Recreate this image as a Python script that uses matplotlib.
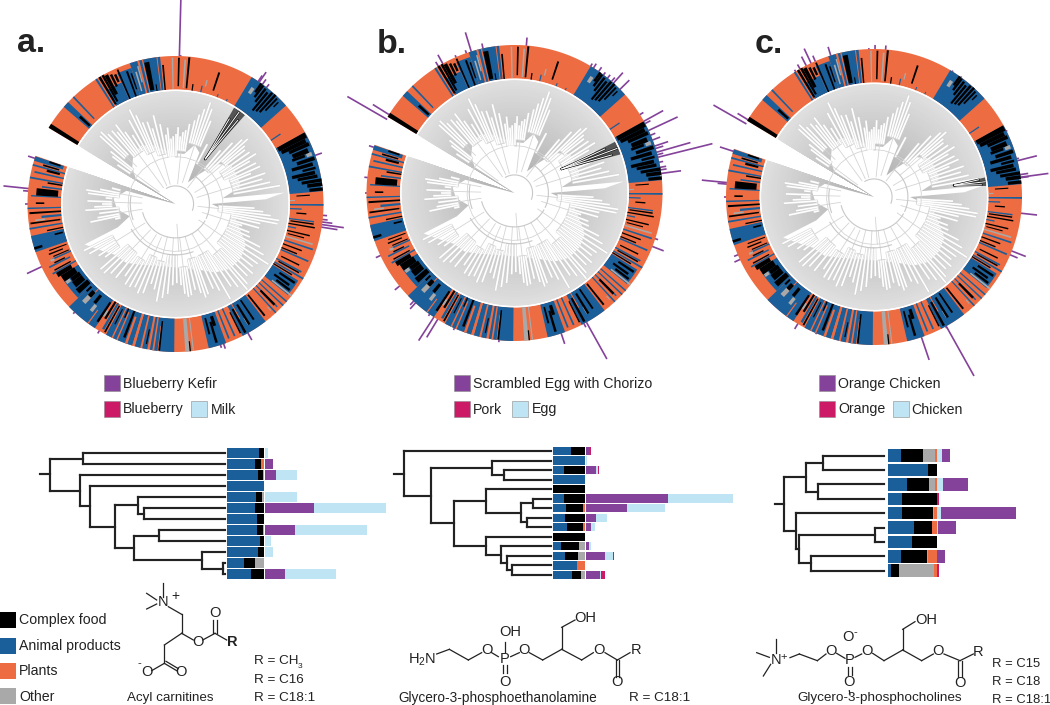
import numpy as np
import matplotlib
matplotlib.use("Agg")
import matplotlib.pyplot as plt
from matplotlib.patches import Polygon, Rectangle

plt.rcParams['font.family'] = ['Liberation Sans', 'DejaVu Sans']
plt.rcParams['mathtext.default'] = 'regular'

BLUE, ORANGE, GREY, PURPLE, PINK, MILK = '#1a5e9a', '#ee6c42', '#a9a9a9', '#84429a', '#cc1a66', '#bfe4f4'
INK = '#222222'

# ---------- circular panels: centre x, centre y ----------
CENTRES = {'a': (175.5, 204), 'b': (514.5, 193), 'c': (874, 197)}
R_IN, R0, R1 = 113.0, 114.5, 148.0
GAP_END = 301
GAP_START = 649

# ring blocks: bearing start, bearing end, inner fraction, outer fraction
RING_BLUE = [(311, 313.5, 0, 1), (316, 316.7, .1, 1), (327.2, 328, 0, 1), (329, 336, 0, .55), (336, 342, 0, .85),
             (342, 354, 0, 1), (12.4, 13, 0, .2), (21, 21.5, 0, .1), (26, 26.5, 0, .08), (31, 48.3, 0, 1),
             (56, 56.6, 0, .35), (61, 85, 0, 1), (90, 90.7, 0, 1), (92, 92.6, 0, .35),
             (97, 97.6, 0, .75), (101, 101.6, 0, .25), (108, 108.7, 0, .9), (113, 113.7, 0, .9), (118, 118.7, 0, .85),
             (120, 120.7, 0, 1), (122, 129, 0, .9), (131, 131.6, 0, 1), (133, 133.6, 0, 1), (135, 135.6, 0, .9),
             (137, 137.6, 0, 1), (142.5, 153, 0, 1), (155.5, 156.2, 0, .9), (158, 158.7, 0, .9), (160, 167, 0, 1),
             (180.5, 190, 0, 1), (191, 196, 0, 1), (197, 208, 0, 1), (209.5, 210.5, 0, .9), (213, 226, 0, 1),
             (226, 238, 0, .62), (240, 240.7, 0, .8), (243, 243.7, .1, .8), (245.5, 246.2, 0, .6),
             (251, 257.5, 0, 1), (260, 260.7, 0, 1), (264, 265, 0, .6), (268, 268.6, 0, 1), (273, 273.6, 0, .9),
             (277, 277.7, 0, .6), (280, 280.7, 0, 1), (282.5, 283.2, 0, .9), (285, 285.7, 0, 1), (287, 288.8, .1, 1)]
RING_ORANGE = [(345, 345.8, 0, 1), (346.8, 347.3, 0, 1), (352.6, 353, 0, 1), (140, 140.6, .6, 1),
               (150.5, 151, 0, .5), (186.5, 187, .25, 1), (188.3, 189, 0, 1), (193, 193.8, 0, 1),
               (196, 197, 0, 1), (199, 200, .15, 1), (203, 203.6, .1, 1), (205, 205.6, 0, 1),
               (216, 216.5, .5, 1), (222, 222.5, 0, .5)]
RING_GREY = [(343, 343.7, .1, .7), (344.4, 345, .35, .85), (358.5, 359.1, .02, .95), (3.5, 4.2, .05, .9),
             (14, 14.6, .2, .4), (33, 34.5, .55, .75), (69, 70.5, .75, .92), (83, 84, .95, 1), (88, 88.6, 0, .15),
             (106, 106.7, 0, .85), (128, 128.7, .25, 1), (138, 138.4, .7, .85), (148.5, 149.2, .55, .78),
             (174.5, 176.2, 0, 1), (172.8, 173.3, 0, 1), (212, 213, .35, .55), (222, 224, .3, .6), (217.5, 219, .42, .65),
             (233.5, 235, .45, .6), (245, 246, .55, .68), (263, 263.7, .5, .8)]
RING_BLACK = [(301, 302.8, 0, 1), (311.8, 313, .05, .45), (328.6, 329.6, .05, 1), (330, 331, .1, 1),
              (331, 332.5, .3, .95), (333, 334, .5, .9), (334.5, 335.5, .6, .85), (336.3, 337, 0, .95),
              (339.5, 340.3, 0, .8), (341, 341.6, .2, .7), (347.5, 349.5, .05, .9),
              (350.5, 351, 0, .2), (354.5, 355.2, 0, .75), (1, 1.7, .1, .95), (5, 5.8, .05, .98), (8, 8.6, 0, .2),
              (18, 18.8, .15, .72), (35, 36, .68, 1), (36, 37, .55, .98), (37.5, 38.5, .45, .95), (39, 40, .2, .9),
              (40.5, 41.5, .25, .98), (42, 43, .3, 1), (43.5, 44.3, .45, .95), (45, 45.6, .7, .9),
              (61, 63.2, .05, .98), (63.2, 65, .1, .9), (65, 66.5, .3, .95), (67, 69, .35, .85), (69, 70.2, .3, .7),
              (71, 72.5, .4, .95), (73, 74.5, .2, .85), (75, 76, .5, .9), (76.5, 78, .15, .85), (78.2, 79.5, .3, .9),
              (80, 81.3, .4, 1), (81.5, 83, .55, 1), (83.5, 84.8, .6, 1), (86, 86.5, .2, .6), (94, 94.6, .2, .5),
              (98, 98.6, .05, .75), (99.4, 100, 0, .8), (103, 103.6, 0, .7), (104.5, 105, .05, .55), (110, 110.6, 0, .6),
              (112, 112.6, 0, .5), (116, 116.6, .1, .7), (118.8, 119.4, .1, .8), (121, 121.6, 0, .65),
              (123, 124, .3, .85), (125, 126, .2, .75), (126.5, 127.5, .35, .85), (135, 136, .2, .8),
              (141, 141.8, .05, .85), (145.5, 146.3, .05, .75), (148, 149, .1, .8), (151, 152, .15, .95),
              (153, 153.6, .2, .9), (161.5, 163, .1, .4), (163, 164, .25, .9), (165, 165.8, .1, .6),
              (174, 174.5, .7, 1), (186, 186.7, .1, .98), (191.5, 192, .4, .85), (200.5, 201.5, 0, .85),
              (203.8, 204.4, 0, .3), (206.5, 207, .1, .6), (208.5, 209.2, .05, .95), (211, 212, 0, .6), (213, 214, .1, .8),
              (218.5, 220, .1, .4), (222, 224, .15, .35), (225, 226, .1, .3), (227, 229.5, .05, .5), (230, 233, .1, .45),
              (233, 235, .1, .42), (235, 238, .15, .62), (238, 240, .2, .7), (241, 241.6, .15, .7), (243.8, 244.4, .25, .6),
              (246.5, 247, .05, .55), (248, 248.6, .2, .65), (249.5, 250, .05, .6), (252, 253, .75, 1), (255.5, 256.3, .05, .3),
              (258, 258.6, 0, .5), (262, 262.7, .05, .95), (266, 266.8, 0, .95), (270, 270.7, .5, .75),
              (273.5, 276.5, .1, .75), (279, 279.7, 0, .45), (284, 285, .15, .55), (286, 286.7, .2, .7), (288, 288.8, .2, .55)]

# purple spokes per panel: bearing, length outside ring (pixels)
SPOKES = {
    'a': [(1.5, 62), (2, 1), (34, 7), (34.5, 12), (36, 6), (38, 4), (70.8, 7), (94.4, 4), (96, 5), (97, 10), (98, 22),
          (99, 16), (150.7, 8), (161, 5), (162.3, 3), (211, 3), (223, 2), (244.9, 16), (270, 3), (275, 5), (276, 25), (288, 7)],
    'b': [(4.6, 8), (31, 3), (32.3, 5), (34.7, 5), (37, 3), (39, 4), (41, 5), (42, 14), (45.5, 13), (58, 4), (61, 22), (62, 6),
          (65, 32), (67, 5), (69, 8), (71.5, 14), (72.5, 8), (74, 35), (75, 6), (76, 56), (78, 4), (80, 6), (81, 6), (82.4, 20),
          (108, 3), (111.2, 12), (150.9, 42), (152, 4), (161.6, 11), (186, 2), (204, 2), (211.3, 21), (213, 28), (215, 2),
          (222, 8), (223, 5), (231, 6), (245, 5), (270, 2), (276, 3), (288, 5), (302, 19), (300, 45), (329, 5), (331, 10),
          (336.7, 2), (341, 3), (343, 20), (347.7, 5)],
    'c': [(358, 1), (0.4, 4), (4.5, 4), (32, 1), (36, 1), (63.5, 1), (75, 2), (75.8, 20), (81.3, 8), (82.3, 28), (82.5, 8),
          (96.3, 16), (111.4, 15), (113, 8), (151, 2), (150.8, 57), (161.3, 24), (203, 1), (211, 6), (245, 6), (247, 4),
          (270, 2), (275, 9), (275.6, 25), (288, 14), (299.8, 37), (301.5, 12), (328, 2), (330, 5), (332.7, 10), (334.8, 16),
          (336.6, 6), (343, 9)],
}
# dark highlighted clade: apex bearing, bearing start, bearing end, apex fraction
DARK = {'a': (33.5, 31.3, 38, .45), 'b': (63, 63, 70, .44), 'c': (81.7, 80, 84.4, .69)}

# white interior of the tree: bearing, radius fraction
CORE_BEARING = [301, 303, 310, 320, 330, 340, 350, 360, 370, 378, 385, 390, 398, 405, 415, 425, 435, 443, 444, 447, 450,
                460, 470, 480, 490, 500, 510, 520, 530, 540, 550, 560, 570, 580, 590, 600, 606, 608, 615, 625, 635, 645, 649]
CORE_RADIUS = [.0, .42, .5, .58, .6, .55, .48, .45, .45, .55, .5, .22, .33, .5, .6, .6, .6, .42, .97, .8, .32,
               .52, .6, .72, .75, .75, .7, .62, .58, .56, .56, .58, .62, .68, .7, .8, .88, .55, .42, .52, .55, .45, .0]

# tree clades: inner radius, arc radius, tips (bearing, tip radius)
CLADES = [
    (.18, .48, [(304, .62), (307, .7), (309, .74)]),
    (.48, .6, [(312, .9), (314, .92), (316, .86)]),
    (.18, .55, [(319, .86), (321, .82), (323, .88), (325, .78), (328, .72)]),
    (.18, .5, [(331, .85), (334, .93), (336, .86), (338, .78)]),
    (.18, .45, [(341, .77), (343, .7), (346, .81), (349, .72)]),
    (.18, .42, [(352, .62), (354, .68), (356, .58), (358, .6), (0, .62)]),
    (.18, .47, [(2, .68), (4, .6), (6, .64), (8, .66), (10, .72)]),
    (.2, .55, [(13, .76), (15, .82), (17, .88), (19, .95), (21, .9), (23, .8)]),
    (.18, .4, [(28, .6), (40, .62), (43, .74), (46, .82)]),
    (.3, .55, [(48, .86), (50, .8), (52, .78)]),
    (.2, .48, [(55, .8), (58, .84), (60, .76), (63, .8)]),
    (.2, .52, [(66, .82), (68, .72), (71, .84), (74, .8), (77, .86), (80, .94)]),
    (.2, .38, [(93, .7), (95, .78), (97, .85), (99, .93)]),
    (.25, .5, [(101, .92), (103, .77), (106, .77), (108, .62), (111, .7), (114, .72)]),
    (.25, .5, [(117, .84), (120, .9), (123, .98), (126, .9), (129, .88), (132, .92)]),
    (.3, .56, [(135, .9), (138, .95), (140, .99), (143, .92)]),
    (.3, .5, [(146, .88), (150, .97), (153, .86), (156, .82)]),
    (.3, .5, [(160, .85), (162, .87), (164, .82), (167, .78)]),
    (.3, .56, [(170, .82), (172, .83), (174, .8), (176, .72)]),
    (.3, .45, [(179, .7), (182, .72), (185, .8), (188, .84)]),
    (.3, .52, [(191, .88), (194, .78), (197, .74)]),
    (.32, .5, [(200, .84), (203, .86), (206, .82)]),
    (.32, .57, [(209, .84), (212, .84), (215, .78)]),
    (.32, .55, [(219, .84), (223, .84), (226, .88), (229, .88)]),
    (.32, .62, [(233, .78), (236, .82), (240, .88), (243, .91)]),
    (.3, .5, [(256, .55), (258, .77), (260, .7), (263, .68), (266, .8)]),
    (.3, .56, [(268, .72), (270, .65), (272, .78), (275, .62)]),
    (.3, .5, [(277, .78), (279, .8), (281, .68), (284, .58)]),
]
# centre arcs of the tree: bearing start, bearing end, radius fraction
TREE_ARCS = [(330, 470, .16), (395, 475, .3), (480, 615, .3), (610, 640, .4), (520, 600, .45)]

# ---------- lower phylogenies ----------
# node: (x, children); leaf: row index. x values in pixels
TREE_A = (50, [(83, [0, 1]), (80, [2, (90, [3, (114.5, [(137.5, [4, (143.5, [5, 6])]),
          (133.5, [(159, [7, 8]), (201.5, [9, (222.5, [10, 11])])])])])])])
TREE_B = (403.5, [0, (430.5, [(492, [1, (503.5, [2, 3])]),
          (453.5, [(485.5, [4, (521, [(532.5, [5, 6]), (527, [7, 8])])]),
                   (485.5, [9, (500.5, [10, (506.5, [11, (511.5, [12, 13])])])])])])])
TREE_C = (783.5, [(805.5, [(822.5, [0, 1]), (817.5, [2, 3])]),
                  (795.5, [4, (798.5, [(874.5, [5, 6]), (810.5, [7, 8])])])])

# bars: widths
A_BLUE = [95, 83, 93, 110, 86, 82, 90, 90, 98, 92, 51, 72]
A_BLACK = [15, 18, 15, 0, 18, 28, 20, 16, 12, 18, 33, 38]
A_GREY = [0, 0, 2, 0, 6, 0, 0, 4, 0, 0, 26, 0]
A_PLANT = [0, 9, 0, 0, 0, 0, 0, 0, 0, 0, 0, 0]
A_PURPLE = [0, 24, 34, 0, 0, 147, 0, 92, 0, 0, 0, 60]
A_MILK = [10, 0, 62, 0, 97, 217, 0, 215, 19, 24, 0, 155]

B_BLUE = [54, 96, 32, 96, 0, 33, 40, 35, 43, 0, 25, 36, 71, 56]
B_BLACK = [42, 0, 64, 0, 96, 63, 51, 61, 48, 96, 52, 38, 0, 27]
B_GREY = [0, 0, 0, 0, 0, 0, 0, 0, 0, 0, 19, 22, 0, 13]
B_PLANT = [0, 0, 0, 0, 0, 0, 5, 0, 5, 0, 0, 0, 25, 0]
B_PURPLE = [14, 0, 32, 0, 0, 247, 125, 32, 15, 0, 10, 57, 0, 43]
B_MILK = [0, 5, 4, 0, 0, 196, 112, 32, 12, 0, 6, 24, 0, 4]
B_PINK = [1, 0, 3, 0, 0, 0, 0, 0, 0, 0, 0, 3, 0, 10]

C_BLUE = [37, 120, 55, 40, 41, 76, 72, 37, 8]
C_BLACK = [68, 25, 68, 105, 92, 56, 73, 80, 24]
C_GREY = [36, 0, 18, 0, 3, 0, 0, 3, 104]
C_PLANT = [4, 0, 4, 0, 9, 13, 0, 25, 9]
C_MILK = [15, 0, 16, 0, 12, 3, 0, 0, 0]
C_PURPLE = [23, 0, 75, 0, 225, 52, 0, 22, 0]
C_PINK = [0, 0, 0, 4, 0, 0, 0, 0, 5]

LEGEND_CATS = ['Complex food', 'Animal products', 'Plants', 'Other']
LEGEND_COLS = ['black', BLUE, ORANGE, GREY]

fig = plt.figure(figsize=(10.5, 7.05), dpi=100)
ax = fig.add_axes([0, 0, 1, 1])
ax.set_xlim(0, 1050)
ax.set_ylim(705, 0)
ax.axis('off')


def pol(c, b, r):
    t = np.radians(b)
    return c[0] + r * np.sin(t), c[1] - r * np.cos(t)


def sector(c, b0, b1, r0, r1, color, z=2):
    bs = np.linspace(b0, b1, max(2, int(abs(b1 - b0) * 1.5) + 2))
    xo, yo = pol(c, bs, r1)
    xi, yi = pol(c, bs[::-1], r0)
    pts = np.c_[np.r_[xo, xi], np.r_[yo, yi]]
    ax.add_patch(Polygon(pts, closed=True, fc=color, ec='none', lw=0, zorder=z))


def draw_panel(name):
    c = CENTRES[name]
    for b, L in SPOKES[name]:
        x, y = pol(c, np.array([b, b]), np.array([R1 - 1, R1 + L]))
        ax.plot(x, y, color=PURPLE, lw=1.2, solid_capstyle='butt', zorder=1)
    sector(c, GAP_END, GAP_START, R0, R1, ORANGE, 2)
    span = R1 - R0
    for blocks, col, z in [(RING_BLUE, BLUE, 3), (RING_ORANGE, ORANGE, 4), (RING_GREY, GREY, 5), (RING_BLACK, 'black', 6)]:
        for b0, b1, f0, f1 in blocks:
            sector(c, b0, b1, R0 + f0 * span, R0 + f1 * span, col, z)
    fr = np.linspace(1, .25, 28)
    for f in fr:
        g = .875 - (1 - f) * .22
        sector(c, GAP_END, GAP_START, 0, R_IN * f, (g, g, g), 7)
    bs = np.array(CORE_BEARING, float)
    rs = np.array(CORE_RADIUS) * R_IN
    x, y = pol(c, bs, rs)
    ax.add_patch(Polygon(np.c_[np.r_[c[0], x], np.r_[c[1], y]], closed=True, fc='white', ec='none', zorder=8))
    for stem0, arc, tips in CLADES:
        tb = [t[0] for t in tips]
        mid = (tb[0] + tb[-1]) / 2
        for b, rt in tips:
            xx, yy = pol(c, np.array([b, b]), np.array([arc, rt]) * R_IN)
            ax.plot(xx, yy, color='#d0d0d0', lw=1.9, solid_capstyle='butt', zorder=9)
            ax.plot(xx, yy, color='white', lw=1.2, solid_capstyle='butt', zorder=10)
        bb = np.linspace(tb[0], tb[-1], 30)
        xx, yy = pol(c, bb, np.full(30, arc * R_IN))
        ax.plot(xx, yy, color='#d4d4d4', lw=.6, zorder=11)
        xx, yy = pol(c, np.array([mid, mid]), np.array([stem0, arc]) * R_IN)
        ax.plot(xx, yy, color='#d4d4d4', lw=.6, zorder=11)
    for b0, b1, r in TREE_ARCS:
        bb = np.linspace(b0, b1, 40)
        xx, yy = pol(c, bb, np.full(40, r * R_IN))
        ax.plot(xx, yy, color='#c8c8c8', lw=.8, zorder=11)
    ap, b0, b1, f = DARK[name]
    pts = [pol(c, ap, f * R_IN)] + [pol(c, b, R_IN) for b in np.linspace(b0, b1, 8)]
    ax.add_patch(Polygon(pts, closed=True, fc='#555555', ec='none', zorder=12))
    mid = (b0 + b1) / 2
    for db, ft in [(-.35, .8), (0, .98), (.3, .86)]:
        for lw, col, z in [(1.6, '#111111', 13), (.7, 'white', 14)]:
            xx, yy = pol(c, np.array([ap, mid + db * (b1 - b0)]), np.array([f + .03, f + (1 - f) * ft]) * R_IN)
            ax.plot(xx, yy, color=col, lw=lw, zorder=z)
    bb = np.linspace(GAP_END, GAP_START, 300)
    xx, yy = pol(c, bb, np.full(300, R_IN + .6))
    ax.plot(xx, yy, color='white', lw=1.0, zorder=15)


for n in 'abc':
    draw_panel(n)

for t, x, y in [('a.', 17, 52), ('b.', 377, 53), ('c.', 755, 53)]:
    ax.text(x, y, t, fontsize=24.5, fontweight='bold', color='#222222', va='baseline', ha='left', zorder=20)


def sq(x, y, col, w=16, h=16):
    ax.add_patch(Rectangle((x, y), w, h, fc=col, ec='#8a8a8a', lw=.4, zorder=20))


for xs, row1, row2, pos in [
    (104, 'Blueberry Kefir', 'Blueberry', (191, 'Milk', 210.5)),
    (454, 'Scrambled Egg with Chorizo', 'Pork', (512.4, 'Egg', 532)),
    (819, 'Orange Chicken', 'Orange', (893, 'Chicken', 911)),
]:
    sq(xs, 375, PURPLE)
    sq(xs, 401, PINK)
    sq(pos[0], 401, MILK)
    ax.text(xs + 19, 384, row1, fontsize=10.2, va='center', color=INK, zorder=20)
    ax.text(xs + 19, 409.5, row2, fontsize=10.2, va='center', color=INK, zorder=20)
    ax.text(pos[2], 409.5, pos[1], fontsize=10.2, va='center', color=INK, zorder=20)


TREE_LW = 1.55


def tree(node, ys, tip, parent=None):
    if isinstance(node, int):
        y = ys[node]
        ax.plot([parent, tip], [y, y], color=INK, lw=TREE_LW, solid_capstyle='projecting', zorder=5)
        return y
    x, kids = node
    yy = [tree(k, ys, tip, x) for k in kids]
    ym = (yy[0] + yy[-1]) / 2
    ax.plot([x, x], [yy[0], yy[-1]], color=INK, lw=TREE_LW, solid_capstyle='projecting', zorder=5)
    if parent is not None:
        ax.plot([parent, x], [ym, ym], color=INK, lw=TREE_LW, solid_capstyle='projecting', zorder=5)
    return ym


def bars(ys, x0, xr, h, left, right):
    cur = np.full(len(ys), float(x0))
    for vals, col in left:
        w = np.array(vals) / 3
        ax.barh(ys, w, left=cur, height=h, color=col, edgecolor='none', zorder=6)
        cur = cur + w
    cur = np.full(len(ys), float(xr))
    for vals, col in right:
        w = np.array(vals) / 3
        ax.barh(ys, w, left=cur, height=h, color=col, edgecolor='none', zorder=6)
        cur = cur + w


ya = 453 + 11 * np.arange(12)
yb = 451 + 9.53 * np.arange(14)
yc = 455.7 + 14.37 * np.arange(9)
tree(TREE_A, ya, 225)
ax.plot([40, 50], [474, 474], color=INK, lw=TREE_LW, zorder=5)
bars(ya, 227.3, 264.8, 9.6, [(A_BLUE, BLUE), (A_BLACK, 'black'), (A_GREY, GREY), (A_PLANT, ORANGE)],
     [(A_PURPLE, PURPLE), (A_MILK, MILK)])
tree(TREE_B, yb, 551)
ax.plot([393.5, 403.5], [473.5, 473.5], color=INK, lw=TREE_LW, zorder=5)
bars(yb, 553, 585.8, 8.4, [(B_BLUE, BLUE), (B_BLACK, 'black'), (B_GREY, GREY), (B_PLANT, ORANGE)],
     [(B_PURPLE, PURPLE), (B_MILK, MILK), (B_PINK, PINK)])
tree(TREE_C, yc, 883.5)
ax.plot([774.5, 783.5], [504, 504], color=INK, lw=TREE_LW, zorder=5)
bars(yc, 888.3, 937.3, 12.6, [(C_BLUE, BLUE), (C_BLACK, 'black'), (C_GREY, GREY), (C_PLANT, ORANGE)],
     [(C_MILK, MILK), (C_PURPLE, PURPLE), (C_PINK, PINK)])

for (lab, col), ys_, yt in zip(zip(LEGEND_CATS, LEGEND_COLS), [612, 638, 663, 688], [620, 646, 671, 697]):
    ax.add_patch(Rectangle((0, ys_), 16, 16, fc=col, ec='none', zorder=20))
    ax.text(19, yt, lab, fontsize=10.2, va='center', color=INK, zorder=20)


def struct(ox, oy, bonds, atoms):
    for (x0, y0, x1, y1) in bonds:
        ax.plot([ox + x0 / 3, ox + x1 / 3], [oy + y0 / 3, oy + y1 / 3], color=INK, lw=.9, zorder=5)
    for s, x, y, fs, w in atoms:
        ax.text(ox + x / 3, oy + y / 3, s, fontsize=fs, ha='center', va='center', color=INK, fontweight=w, zorder=6)


struct(0, 430,
       [(490, 500, 490, 458), (470, 510, 440, 490), (470, 522, 440, 537), (505, 530, 545, 553), (545, 553, 545, 610),
        (545, 610, 493, 645), (493, 645, 493, 700), (493, 700, 455, 722), (493, 700, 530, 722), (498, 694, 535, 716),
        (545, 610, 580, 630), (608, 630, 645, 610), (640, 610, 640, 570), (650, 610, 650, 570), (645, 610, 680, 630)],
       [('N', 490, 517, 10.5, 'normal'), ('+', 525, 498, 10, 'normal'), ('O', 442, 727, 10.5, 'normal'), ('-', 418, 700, 8, 'normal'),
        ('O', 543, 725, 10.5, 'normal'), ('O', 593, 637, 10.5, 'normal'), ('O', 645, 548, 10.5, 'normal'), ('R', 697, 637, 10.5, 'bold')])
ax.text(170, 698, 'Acyl carnitines', fontsize=9.6, ha='center', va='center', color=INK)
for t, y in [('R = CH', 661), ('R = C16', 680), ('R = C18:1', 698)]:
    ax.text(254, y, t, fontsize=9.7, ha='left', va='center', color=INK)
ax.text(297.5, 667, '3', fontsize=6, ha='left', va='center', color=INK)

struct(390, 430,
       [(140, 672, 178, 658), (178, 658, 235, 690), (235, 690, 275, 668), (305, 668, 325, 680), (345, 665, 345, 635),
        (340, 705, 340, 730), (350, 705, 350, 730), (362, 680, 388, 668), (418, 668, 458, 690), (458, 690, 515, 658),
        (515, 658, 515, 592), (515, 592, 555, 570), (515, 658, 575, 690), (575, 690, 610, 668), (645, 668, 682, 690),
        (682, 690, 720, 668), (677, 690, 677, 740), (687, 690, 687, 740)],
       [('H$_2$N', 97, 690, 10.5, 'normal'), ('O', 290, 660, 10.5, 'normal'), ('P', 345, 687, 10.5, 'normal'), ('OH', 362, 607, 10.5, 'normal'),
        ('O', 345, 757, 10.5, 'normal'), ('O', 403, 660, 10.5, 'normal'), ('OH', 585, 563, 10.5, 'normal'), ('O', 628, 660, 10.5, 'normal'),
        ('R', 738, 660, 10.5, 'normal'), ('O', 682, 757, 10.5, 'normal')])
ax.text(498, 698, 'Glycero-3-phosphoethanolamine', fontsize=9.8, ha='center', va='center', color=INK)
ax.text(629, 698, 'R = C18:1', fontsize=9.7, ha='left', va='center', color=INK)

struct(740, 430,
       [(107, 670, 107, 628), (88, 682, 50, 668), (92, 703, 70, 738), (150, 683, 178, 672), (178, 672, 232, 692),
        (232, 692, 258, 672), (290, 670, 315, 685), (325, 712, 325, 735), (335, 712, 335, 735), (345, 682, 365, 672),
        (398, 670, 432, 692), (432, 692, 488, 660), (488, 660, 488, 598), (488, 598, 525, 575), (488, 660, 545, 692),
        (545, 692, 580, 672), (612, 672, 660, 692), (660, 692, 700, 672), (655, 692, 655, 740), (665, 692, 665, 740),
        (328, 782, 330, 795)],
       [('N', 107, 690, 10.5, 'normal'), ('+', 132, 682, 8, 'normal'), ('O', 272, 662, 10.5, 'normal'), ('P', 330, 690, 10.5, 'normal'),
        ('O', 325, 620, 10.5, 'normal'), ('-', 346, 607, 8, 'normal'), ('O', 328, 757, 10.5, 'normal'), ('O', 380, 662, 10.5, 'normal'),
        ('OH', 558, 570, 10.5, 'normal'), ('O', 595, 662, 10.5, 'normal'), ('R', 715, 665, 10.5, 'normal'), ('O', 660, 760, 10.5, 'normal')])
ax.text(880, 698, 'Glycero-3-phosphocholines', fontsize=9.7, ha='center', va='center', color=INK)
for t, y in [('R = C15', 664), ('R = C18', 682), ('R = C18:1', 700)]:
    ax.text(992, y, t, fontsize=9.4, ha='left', va='center', color=INK)

fig.savefig('out.png', dpi=100, facecolor='white')
